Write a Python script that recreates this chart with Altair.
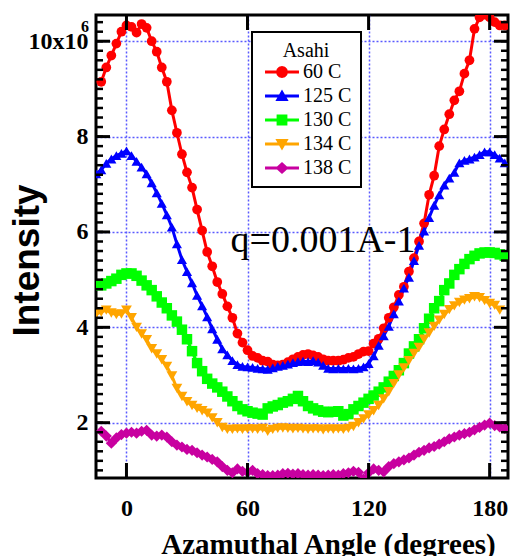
import altair as alt
import pandas as pd

# ---------------- data ----------------
series_names = ["60 C", "125 C", "130 C", "134 C", "138 C"]
series_colors = ["#ff0000", "#0000ff", "#00ff00", "#ffa500", "#c800a0"]
series_shapes = ["circle", "triangle-up", "square", "triangle-down", "diamond"]
marker_sizes = [95, 125, 140, 125, 100]

angle_step = 2.5
angle_starts = [-12.5, -15.0, -12.5, -15.0, -12.5]

int_60 = [9.15, 9.45, 9.7, 9.95, 10.2, 10.33, 10.3, 10.18, 10.36, 10.28,
          10.0, 9.78, 9.45, 9.15, 8.55, 8.08, 7.63, 7.25, 6.93, 6.47,
          6.03, 5.58, 5.28, 4.95, 4.7, 4.44, 4.2, 3.87, 3.68, 3.52,
          3.40, 3.36, 3.30, 3.28, 3.22, 3.20, 3.22, 3.27, 3.33, 3.38,
          3.42, 3.44, 3.41, 3.38, 3.33, 3.30, 3.30, 3.30, 3.32, 3.36,
          3.38, 3.44, 3.49, 3.5, 3.66, 3.76, 3.98, 4.2, 4.42, 4.68,
          4.85, 5.17, 5.45, 5.8, 6.18, 6.78, 7.18, 7.8, 8.15, 8.47,
          8.76, 8.95, 9.32, 9.6, 10.26, 10.5, 10.56, 10.5, 10.4, 10.33,
          10.33]
int_125 = [7.22, 7.3, 7.44, 7.53, 7.6, 7.65, 7.7, 7.6, 7.48, 7.36,
           7.22, 7.03, 6.82, 6.6, 6.36, 6.1, 5.75, 5.42, 5.17, 4.93,
           4.67, 4.45, 4.22, 3.97, 3.75, 3.55, 3.42, 3.3, 3.22, 3.18,
           3.17, 3.16, 3.14, 3.13, 3.12, 3.15, 3.18, 3.2, 3.23, 3.26,
           3.28, 3.29, 3.28, 3.3, 3.27, 3.2, 3.14, 3.13, 3.14, 3.13,
           3.14, 3.13, 3.14, 3.17, 3.24, 3.4, 3.62, 3.82, 4.02, 4.28,
           4.55, 4.82, 5.05, 5.4, 5.72, 6.02, 6.3, 6.56, 6.78, 6.98,
           7.13, 7.25, 7.45, 7.5, 7.53, 7.57, 7.62, 7.68, 7.68, 7.62,
           7.55, 7.45]
int_130 = [4.88, 4.92, 4.97, 5.02, 5.1, 5.13, 5.13, 5.08, 4.98, 4.88,
           4.78, 4.65, 4.52, 4.4, 4.25, 4.12, 3.95, 3.75, 3.5, 3.25,
           3.08, 2.92, 2.82, 2.74, 2.65, 2.55, 2.45, 2.35, 2.28, 2.24,
           2.21, 2.19, 2.17, 2.3, 2.34, 2.37, 2.42, 2.45, 2.5, 2.56,
           2.45, 2.35, 2.3, 2.26, 2.23, 2.22, 2.23, 2.24, 2.15, 2.18,
           2.28, 2.35, 2.42, 2.5, 2.57, 2.65, 2.74, 2.86, 2.98, 3.1,
           3.25, 3.45, 3.6, 3.75, 3.98, 4.18, 4.4, 4.55, 4.78, 4.92,
           5.1, 5.22, 5.33, 5.43, 5.5, 5.55, 5.57, 5.57, 5.56, 5.53,
           5.5]
int_134 = [4.28, 4.32, 4.36, 4.3, 4.27, 4.28, 4.36, 4.2, 4.0, 3.86,
           3.74, 3.55, 3.44, 3.32, 3.18, 2.98, 2.72, 2.55, 2.44, 2.36,
           2.3, 2.25, 2.2, 2.1, 2.0, 1.9,
           1.86, 1.86, 1.87, 1.86, 1.87, 1.87, 1.86, 1.88, 1.82, 1.86,
           1.88, 1.89, 1.88, 1.87, 1.88, 1.87, 1.86, 1.87, 1.87, 1.85,
           1.87, 1.86, 1.87, 1.86, 1.88,
           1.92, 2.0, 2.08, 2.16, 2.25, 2.36, 2.5, 2.65, 2.82, 3.0,
           3.15, 3.3, 3.45, 3.58, 3.75, 3.88, 4.02, 4.15, 4.27, 4.37,
           4.45, 4.52, 4.57, 4.6, 4.64, 4.62, 4.56, 4.5, 4.46, 4.36]
int_138 = [1.82, 1.72, 1.57, 1.68, 1.75, 1.78, 1.8, 1.78, 1.82, 1.84,
           1.74, 1.72, 1.74, 1.7, 1.6, 1.53, 1.49, 1.44, 1.42, 1.37,
           1.32, 1.28, 1.23, 1.18, 1.08, 1.0, 0.95, 1.03, 0.98, 0.96,
           1.0, 0.93, 0.91, 0.89, 0.89, 0.9, 0.93, 0.94, 0.92, 0.93,
           0.91, 0.9, 0.91, 0.9, 0.89, 0.9, 0.91, 0.9, 0.93, 0.95,
           0.98, 0.96, 0.82, 0.95, 1.03, 1.0, 0.97, 1.08, 1.14, 1.18,
           1.22, 1.26, 1.32, 1.38, 1.42, 1.47, 1.5, 1.55, 1.6, 1.66,
           1.7, 1.74, 1.77, 1.8, 1.85, 1.9, 1.95, 1.99, 1.94, 1.91,
           1.88, 1.84]
series_values = [int_60, int_125, int_130, int_134, int_138]

x_ticks = [0, 60, 120, 180]
y_ticks = [2, 4, 6, 8, 10]
y_minor = [round(1.0 + 0.2 * i, 1) for i in range(48)]

annotation_text = ["q=0.001A-1"]
annotation_angle = [97.4]
annotation_intensity = [5.57]

rows = []
for name, start, vals in zip(series_names, angle_starts, series_values):
    for i, v in enumerate(vals):
        rows.append({"series": name, "angle": start + angle_step * i, "intensity": v})
df = pd.DataFrame(rows)
df["leg"] = df["series"]

ann = pd.DataFrame({"angle": annotation_angle, "intensity": annotation_intensity,
                    "txt": annotation_text})
sup = pd.DataFrame({"intensity": [10], "txt": ["6"]})

# ---------------- layout ----------------
W, H = 412, 463
xs = alt.Scale(domain=[-15.1, 189.1], nice=False, zero=False)
ys = alt.Scale(domain=[0.84, 10.55], nice=False, zero=False)
GRID = "#5a5aff"
SERIF = "Liberation Serif"

# legend symbols: line with marker (unit coordinates, scaled by sqrt(size)/2)
LINE = "M-2.83,-0.25H2.83V0.25H-2.83Z"
leg_paths = [
    LINE + "M1,0L0.866,0.5L0.5,0.866L0,1L-0.5,0.866L-0.866,0.5L-1,0L-0.866,-0.5L-0.5,-0.866L0,-1L0.5,-0.866L0.866,-0.5Z",
    LINE + "M0,-1.1L1.1,0.85L-1.1,0.85Z",
    LINE + "M-0.9,-0.9H0.9V0.9H-0.9Z",
    LINE + "M-1.1,-0.85H1.1L0,1.1Z",
    LINE + "M0,-1L1.1,0L0,1L-1.1,0Z",
]

color_scale = alt.Scale(domain=series_names, range=series_colors)

base = alt.Chart(df)

lines = base.mark_line(strokeWidth=3, clip=True).encode(
    x=alt.X("angle:Q", scale=xs, axis=None),
    y=alt.Y("intensity:Q", scale=ys, axis=None),
    color=alt.Color("series:N", scale=color_scale, legend=None),
)

points = base.mark_point(filled=True, opacity=1, clip=True).encode(
    x=alt.X("angle:Q", scale=xs, axis=None),
    y=alt.Y("intensity:Q", scale=ys, axis=None),
    color=alt.Color("series:N", scale=color_scale, legend=None),
    shape=alt.Shape("series:N", scale=alt.Scale(domain=series_names, range=series_shapes), legend=None),
    size=alt.Size("series:N", scale=alt.Scale(domain=series_names, range=marker_sizes), legend=None),
)

y_label_axis = alt.Axis(
    orient="left", values=y_ticks,
    labelExpr="datum.value == 10 ? '10x10\u00a0' : datum.label",
    labelFont=SERIF, labelFontWeight="bold", labelFontSize=24, labelColor="black",
    labelPadding=8, labelBaseline="middle", ticks=False, domain=False,
    grid=True, gridColor=GRID, gridDash=[2, 2], gridWidth=1.5, gridOpacity=1,
    title="Intensity", titleFont="Liberation Sans", titleFontSize=37,
    titleFontWeight="bold", titleColor="black", titleX=-58, titleY=245,
    titleAlign="center", titleBaseline="alphabetic", titleAngle=270,
)
x_label_axis = alt.Axis(
    orient="bottom", values=x_ticks, labelFlush=False,
    labelFont=SERIF, labelFontWeight="bold", labelFontSize=24, labelColor="black",
    labelPadding=37, labelBaseline="alphabetic", ticks=False, domain=False,
    grid=True, gridColor=GRID, gridDash=[2, 2], gridWidth=1.5, gridOpacity=1,
    title="Azamuthal Angle (degrees)", titleFont=SERIF, titleFontSize=29,
    titleFontWeight="bold", titleColor="black", titleX=232, titleY=75,
    titleAlign="center", titleBaseline="alphabetic",
)

axes_layer = base.mark_point(opacity=0).encode(
    x=alt.X("angle:Q", scale=xs, axis=x_label_axis),
    y=alt.Y("intensity:Q", scale=ys, axis=y_label_axis),
)


def y_tick_marks(values, length, thick, pos):
    return alt.Chart(pd.DataFrame({"v": values})).mark_tick(
        orient="horizontal", size=length, thickness=thick, color="black", opacity=1
    ).encode(y=alt.Y("v:Q", scale=ys, axis=None), x=alt.value(pos))


def x_tick_marks(values, length, thick, pos):
    return alt.Chart(pd.DataFrame({"v": values})).mark_tick(
        orient="vertical", size=length, thickness=thick, color="black", opacity=1
    ).encode(x=alt.X("v:Q", scale=xs, axis=None), y=alt.value(pos))


tick_layers = [
    y_tick_marks(y_minor, 7, 2.5, 3.5),
    y_tick_marks(y_ticks, 14, 3, 7),
    y_tick_marks(y_minor, 7, 2.5, W - 3.5),
    y_tick_marks(y_ticks, 14, 3, W - 7),
    x_tick_marks(x_ticks, 15, 3, H - 7.5),
    x_tick_marks(x_ticks, 15, 3, 7.5),
]

legend = alt.Legend(
    title="Asahi", orient="none", legendX=156, legendY=17,
    titleFont=SERIF, titleFontSize=20, titleFontWeight="normal", titleColor="black",
    titleAnchor="middle", titlePadding=1,
    labelFont=SERIF, labelFontSize=20, labelColor="black", labelOffset=11,
    symbolSize=144, symbolOffset=11, symbolStrokeWidth=0, rowPadding=4,
    padding=9, strokeColor="black", fillColor="white",
)
legend_layer = base.transform_filter("false").mark_point(filled=True, opacity=1).encode(
    color=alt.Color("leg:N", scale=alt.Scale(domain=series_names, range=series_colors), legend=legend),
    shape=alt.Shape("leg:N", scale=alt.Scale(domain=series_names, range=leg_paths), legend=legend),
)

annotation = alt.Chart(ann).mark_text(
    font=SERIF, fontSize=38, align="center", baseline="alphabetic", color="black"
).encode(
    x=alt.X("angle:Q", scale=xs, axis=None),
    y=alt.Y("intensity:Q", scale=ys, axis=None),
    text="txt:N",
)
superscript = alt.Chart(sup).mark_text(
    font=SERIF, fontSize=16, fontWeight="bold", align="center", baseline="middle",
    dy=-14, color="black"
).encode(
    x=alt.value(-11),
    y=alt.Y("intensity:Q", scale=ys, axis=None),
    text="txt:N",
)

chart = alt.layer(axes_layer, lines, points, *tick_layers, annotation, superscript,
                  legend_layer).resolve_axis(
    x="independent", y="independent"
).resolve_scale(
    color="independent", shape="independent", size="independent"
).properties(
    width=W, height=H,
    padding={"left": 88, "top": 7, "right": 3, "bottom": 78},
    autosize=alt.AutoSizeParams(type="none"),
    background="white",
).configure_view(stroke="black", strokeWidth=3)

try:
    alt.LegendConfig(strokeWidth=2).to_dict()
    chart = chart.configure_legend(labelFont=SERIF, titleFont=SERIF, strokeWidth=2)
except Exception:
    chart = chart.configure_legend(labelFont=SERIF, titleFont=SERIF)

chart.save("out.html", embed_options={"renderer": "svg", "actions": False})
